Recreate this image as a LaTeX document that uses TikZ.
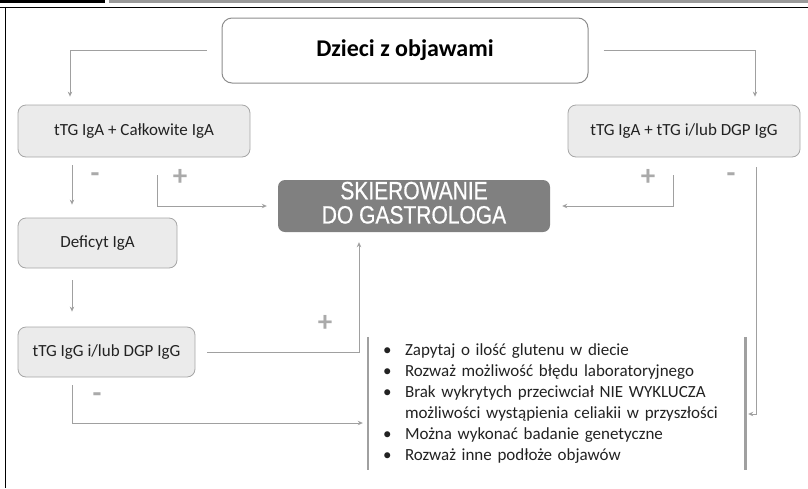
\documentclass[tikz,border=0pt]{standalone}
\usepackage{fontspec}
\setmainfont{Carlito}
\newfontfamily\arialf[FakeStretch=0.84,FakeBold=0.6]{Liberation Sans}
\usetikzlibrary{arrows.meta}
\definecolor{conncol}{HTML}{A0A0A0}
\definecolor{boxfill}{HTML}{EBEBEB}
\definecolor{boxdraw}{HTML}{A6A6A6}
\definecolor{skfill}{HTML}{808080}
\definecolor{txtcol}{HTML}{222222}
\definecolor{signcol}{HTML}{AAAAAA}
\definecolor{headgray}{HTML}{9A9A9A}
\tikzset{
  conn/.style={draw=conncol, line width=0.9pt, -{Stealth[length=5pt,width=4.5pt]}},
  box/.style={draw=boxdraw, fill=boxfill, rounded corners=8pt, line width=0.8pt,
    text=txtcol, font=\fontsize{17}{20}\selectfont, inner sep=0pt},
  topbox/.style={draw=boxdraw!85!black, fill=white, rounded corners=10pt, line width=1pt,
    text=black, font=\fontsize{24}{28}\selectfont\bfseries, minimum width=366pt, minimum height=65pt},
  skbox/.style={fill=skfill, rounded corners=7pt, text=white, align=center,
    font=\arialf\fontsize{25}{22.5}\selectfont, minimum width=272pt, minimum height=52pt, inner sep=0pt},
  sign/.style={text=signcol, font=\fontsize{29}{29}\selectfont\bfseries, inner sep=0pt},
  bar/.style={draw=conncol, line width=2.6pt},
  listbox/.style={minimum width=377pt, minimum height=133pt, inner xsep=15pt, inner ysep=0pt,
    text width=347pt, align=left, text=txtcol, font=\fontsize{17}{21}\selectfont}
}
\begin{document}
\begin{tikzpicture}[x=1pt,y=-1pt]
\useasboundingbox (0,0) rectangle (808,488);
\fill[black] (0,0) rectangle (105,2.5);
\fill[headgray] (109,0) rectangle (808,2.5);
\draw[line width=1.3pt] (0,7.3) -- (808,7.3);
\draw[line width=1.3pt] (5.5,7.3) -- (5.5,488);

\node[topbox] (top) at (405,50.5) {Dzieci z objawami};
\node[box, minimum width=232pt, minimum height=52pt] (b1) at (134,131) {tTG IgA + Całkowite IgA};
\node[box, minimum width=232pt, minimum height=52pt] (b2) at (684,131) {tTG IgA + tTG i/lub DGP IgG};
\node[box, minimum width=159pt, minimum height=50pt] (b3) at (97.5,243) {Deficyt IgA};
\node[box, minimum width=177pt, minimum height=50pt] (b4) at (106.5,352) {tTG IgG i/lub DGP IgG};
\node[skbox] (sk) at (414,206) {\raisebox{2pt}{\begin{tabular}{@{}c@{}}SKIEROWANIE\\DO GASTROLOGA\end{tabular}}};
\node[listbox] (list) at (556.5,403.5) {%
\begin{tabular}{@{}p{9pt}@{\hspace{13pt}}l@{}}
\textbullet & Zapytaj o ilość glutenu w diecie\\
\textbullet & Rozważ możliwość błędu laboratoryjnego\\
\textbullet & Brak wykrytych przeciwciał NIE WYKLUCZA\\
 & możliwości wystąpienia celiakii w przyszłości\\
\textbullet & Można wykonać badanie genetyczne\\
\textbullet & Rozważ inne podłoże objawów
\end{tabular}};
\draw[bar] (list.north west) -- (list.south west);
\draw[bar] (list.north east) -- (list.south east);

% connectors
\draw[conn, shorten <=15pt, shorten >=8pt] (top.west) -| ([xshift=-64pt]b1.north);
\draw[conn, shorten <=15pt, shorten >=8pt] (top.east) -| ([xshift=71pt]b2.north);
\draw[conn, shorten <=8pt, shorten >=13pt] ([xshift=-62pt]b1.south) -- ([xshift=-62pt]b1.south |- b3.north);
\draw[conn, shorten <=18pt, shorten >=11pt] ([xshift=23pt]b1.south) |- (sk.west);
\draw[conn, shorten <=18pt, shorten >=12pt] ([xshift=-11pt]b2.south) |- (sk.east);
\draw[conn, shorten <=10pt, shorten >=3pt] ([xshift=72pt]b2.south) |- ([yshift=-10.5pt]list.east);
\draw[conn, shorten <=12pt, shorten >=15pt] ([xshift=-25.5pt]b3.south) -- ([xshift=-25.5pt]b3.south |- b4.north);
\draw[conn, shorten <=12pt, shorten >=10pt] (b4.east) -| ([xshift=-55pt]sk.south);
\draw[conn, shorten <=8pt, shorten >=5pt] ([xshift=-34.5pt]b4.south) |- ([yshift=-19.5pt]list.west);

% signs
\node[sign] (s1) at (95,178) {-};
\node[sign] (s2) at (180,177) {+};
\node[sign] (s3) at (648,177) {+};
\node[sign] (s4) at (731,178) {-};
\node[sign] (s5) at (325,323) {+};
\node[sign] (s6) at (97,398) {-};
\end{tikzpicture}
\end{document}
